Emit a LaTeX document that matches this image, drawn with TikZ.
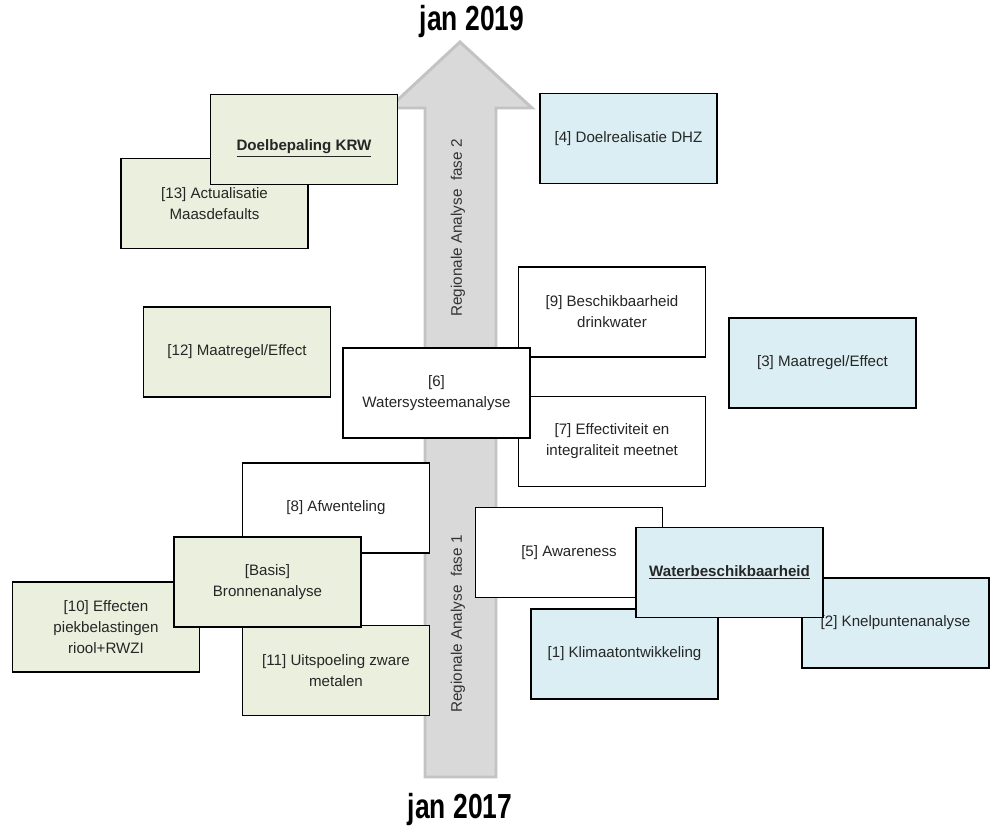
\documentclass[tikz,border=0pt]{standalone}
\usepackage{fontspec}
\setmainfont{Liberation Sans}
\newfontfamily\narrowfont[FakeStretch=0.76]{Liberation Sans}
\usetikzlibrary{positioning}
\definecolor{olivebg}{HTML}{EBF0DE}
\definecolor{aquabg}{HTML}{DBEEF4}
\definecolor{arrowbg}{HTML}{D9D9D9}
\definecolor{arrowline}{HTML}{C3C3C3}
\tikzset{%
  box/.style = {rectangle,draw,line width=1pt,minimum width=3.74cm,
        minimum height=1.8cm,align=center,text=black!85,
        font=\fontsize{8.6}{12}\selectfont},
  grn/.style = {box,fill=olivebg},
  blu/.style = {box,fill=aquabg},
  wht/.style = {box,fill=white},
  fase/.style = {rotate=90,text=black!80,font=\fontsize{8.7}{12}\selectfont},
  jaar/.style = {font=\narrowfont\fontsize{19.8}{22}\selectfont\bfseries}
}

\begin{document}
\begin{tikzpicture}[x=0.02cm,y=-0.02cm]
    \useasboundingbox (0,0) rectangle (1001,827);
    % tijdpijl
    \draw[line width=1.7pt,draw=arrowline,fill=arrowbg,line join=miter]
        (425,777) -- (425,108) -- (389,108) -- (460,42) -- (532,108)
        -- (496,108) -- (496,777) -- cycle;
    \node[fase] (fase2) at (458,228) {Regionale Analyse\ \ fase 2};
    \node[fase] (fase1) at (458,624) {Regionale Analyse\ \ fase 1};
    \node[jaar] (top) at (472,22) {jan 2019};
    \node[jaar] (bottom) at (460,810) {jan 2017};

    \node[grn] (n13) at (214.5,203.5) {[13] Actualisatie\\Maasdefaults};
    \node[grn,text height=15pt,text depth=2pt] (krw) at (304,139.5)
        {\underline{\textbf{Doelbepaling KRW}}};
    \node[blu,minimum width=3.54cm] (n4) at (628.5,138.5) {[4] Doelrealisatie DHZ};
    \node[wht] (n9) at (612,312) {[9] Beschikbaarheid\\drinkwater};
    \node[wht] (n7) at (612,441.5) {[7] Effectiviteit en\\integraliteit meetnet};
    \node[wht] (n6) at (436.5,393) {[6]\\Watersysteemanalyse};
    \node[grn] (n12) at (237,352) {[12] Maatregel/Effect};
    \node[blu] (n3) at (822.5,363) {[3] Maatregel/Effect};

    \node[wht] (n8) at (336,508) {[8] Afwenteling};
    \node[grn] (n10) at (106,627) {[10] Effecten\\piekbelastingen\\riool+RWZI};
    \node[grn] (n11) at (336,670.5) {[11] Uitspoeling zware\\metalen};
    \node[grn] (basis) at (267.5,582) {[Basis]\\Bronnenanalyse};

    \node[wht] (n5) at (569,552.5) {[5] Awareness};
    \node[blu] (n1) at (624.5,654) {[1] Klimaatontwikkeling};
    \node[blu] (n2) at (895.5,623) {[2] Knelpuntenanalyse};
    \node[blu] (water) at (729.5,572.5) {\underline{\textbf{Waterbeschikbaarheid}}};
\end{tikzpicture}
\end{document}
